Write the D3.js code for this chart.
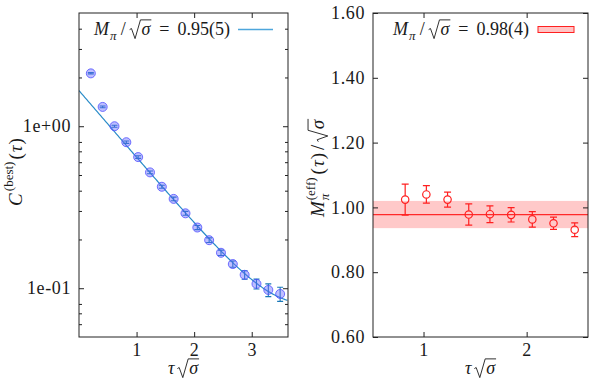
<!DOCTYPE html>
<html>
<head>
<meta charset="utf-8">
<script src="https://cdn.jsdelivr.net/npm/d3@7"></script>
<style>
  body { margin: 0; background: #fff; }
</style>
</head>
<body>
<svg id="chart" width="594" height="382"></svg>
<script>
// ---- data ----
var tauC = [0.2055, 0.411, 0.6165, 0.822, 1.0275, 1.233, 1.4385, 1.644, 1.8495,
            2.055, 2.2605, 2.466, 2.6715, 2.877, 3.0825, 3.288, 3.4935];
var corrBest = [2.12, 1.316, 1.0, 0.797, 0.645, 0.519, 0.423, 0.356, 0.290,
                0.237, 0.198, 0.1655, 0.141, 0.121, 0.1064, 0.0976, 0.0922];
var corrErr = [0.021, 0.016, 0.014, 0.013, 0.012, 0.010, 0.009, 0.009, 0.008,
               0.007, 0.0065, 0.0063, 0.0063, 0.0073, 0.0074, 0.0088, 0.0092];

var tauEff = [0.822, 1.0275, 1.233, 1.4385, 1.644, 1.8495, 2.055, 2.2605, 2.466];
var mEff = [1.024, 1.040, 1.024, 0.978, 0.979, 0.977, 0.963, 0.951, 0.931];
var mEffErr = [0.048, 0.027, 0.023, 0.033, 0.026, 0.022, 0.024, 0.019, 0.021];

// cosh fit of the correlator: A*(exp(-M t) + exp(-M (T - t)))
var fitA = 1.658, fitM = 0.95, fitT = 7.81;
// plateau fit on the effective mass
var plateau = 0.978, plateauErr = 0.042;

var leftXTicks = [1, 2, 3];
var leftYTicks = [1, 0.1];
var leftYTickLabels = ["1e+00", "1e-01"];
var leftYMinor = [4, 3, 2, 0.8, 0.7, 0.6, 0.5, 0.4, 0.3, 0.2, 0.08, 0.07, 0.06];
var rightXTicks = [1, 2];
var rightYTicks = [0.6, 0.8, 1.0, 1.2, 1.4, 1.6];

var svg = d3.select('#chart');
var FS = 18;
var SMALL = 13;
var FONT = '"Liberation Serif", "DejaVu Serif", serif';

function txt(g) {
    return g.append('text').style('font-family', FONT).attr('fill', '#1a1a1a');
}

// lay out a row of math pieces left to right, returns total width
function mathRow(g, pieces, size) {
    var x = 0;
    pieces.forEach(function (p) {
        if (p.sqrt) {
            var t = txt(g).attr('y', 0).style('font-size', size + 'px')
                .style('font-style', 'italic').text(p.sqrt);
            var w = t.node().getComputedTextLength();
            var rw = size * 0.6;
            t.attr('x', x + rw + 1);
            var path = 'M' + x + ',' + (-0.30 * size) + 'L' + (x + 0.1 * size) + ',' + (-0.36 * size) +
                'L' + (x + 0.3 * size) + ',' + (0.2 * size) + 'L' + (x + rw) + ',' + (-0.84 * size) +
                'L' + (x + rw + w + 2) + ',' + (-0.84 * size);
            g.append('path').attr('d', path).attr('fill', 'none').attr('stroke', '#1a1a1a').attr('stroke-width', 0.9);
            x += rw + w + 2 + (p.kern || 0);
            return;
        }
        if (p.stack) {
            var a = txt(g).attr('x', x).attr('y', -0.5 * size).style('font-size', SMALL + 'px').text(p.stack[0]);
            var b = txt(g).attr('x', x).attr('y', 0.25 * size).style('font-size', SMALL + 'px')
                .style('font-style', 'italic').text(p.stack[1]);
            x += Math.max(a.node().getComputedTextLength(), b.node().getComputedTextLength()) + (p.kern || 1);
            return;
        }
        var fs = p.small ? SMALL : size;
        var dy = p.sup ? -0.5 * size : (p.sub ? 0.25 * size : 0);
        var tt = txt(g).attr('x', x).attr('y', dy).style('font-size', fs + 'px')
            .style('font-style', p.it ? 'italic' : 'normal').text(p.t);
        x += tt.node().getComputedTextLength() + (p.kern || 0);
    });
    return x;
}

function legendPieces(val) {
    return [{t: 'M', it: true, kern: 1}, {t: 'π', it: true, small: true, sub: true, kern: 4},
            {t: '/', kern: 4}, {sqrt: 'σ', kern: 8}, {t: '=', kern: 8}, {t: val}];
}

// ================= left panel =================
var L = {x0: 79, x1: 288, y0: 13, y1: 337};
var xL = d3.scaleLinear().domain([0, 3.63]).range([L.x0, L.x1]);
var yL = d3.scaleLog().domain([0.05, 5]).range([L.y1, L.y0]);

svg.append('clipPath').attr('id', 'clipL').append('rect')
    .attr('x', L.x0).attr('y', L.y0).attr('width', L.x1 - L.x0).attr('height', L.y1 - L.y0);

var gL = svg.append('g');

function styleAxis(g) {
    g.attr('font-family', null);
    g.select('.domain').remove();
    g.selectAll('.tick line').attr('stroke', '#222');
    g.selectAll('.tick text').style('font-size', FS + 'px').style('font-family', FONT)
        .style('letter-spacing', '0.6px').attr('fill', '#1a1a1a');
}

gL.append('g').attr('transform', 'translate(0,' + L.y1 + ')')
    .call(d3.axisBottom(xL).tickValues(leftXTicks).tickFormat(d3.format('d')).tickSize(-5).tickPadding(6))
    .call(styleAxis);
gL.append('g').attr('transform', 'translate(0,' + L.y0 + ')')
    .call(d3.axisTop(xL).tickValues(leftXTicks).tickFormat('').tickSize(-5))
    .call(styleAxis);
gL.append('g').attr('transform', 'translate(' + L.x0 + ',0)')
    .call(d3.axisLeft(yL).tickValues(leftYTicks).tickFormat(function (d, i) { return leftYTickLabels[i]; })
        .tickSize(-5).tickPadding(8))
    .call(styleAxis);
gL.append('g').attr('transform', 'translate(' + L.x1 + ',0)')
    .call(d3.axisRight(yL).tickValues(leftYTicks).tickFormat('').tickSize(-5))
    .call(styleAxis);
gL.append('g').attr('transform', 'translate(' + L.x0 + ',0)')
    .call(d3.axisLeft(yL).tickValues(leftYMinor).tickFormat('').tickSize(-3))
    .call(styleAxis);
gL.append('g').attr('transform', 'translate(' + L.x1 + ',0)')
    .call(d3.axisRight(yL).tickValues(leftYMinor).tickFormat('').tickSize(-3))
    .call(styleAxis);

// fit curve
var fitTau = d3.range(0, 3.64, 0.02);
var fitLine = d3.line()
    .x(function (t) { return xL(t); })
    .y(function (t) { return yL(fitA * (Math.exp(-fitM * t) + Math.exp(-fitM * (fitT - t)))); });
gL.append('path').datum(fitTau).attr('d', fitLine).attr('clip-path', 'url(#clipL)')
    .attr('fill', 'none').attr('stroke', '#2a8cc8').attr('stroke-width', 1.2);

// error bars then points
var ptsL = gL.append('g').selectAll('g').data(tauC).enter().append('g');
ptsL.append('path')
    .attr('d', function (t, i) {
        var x = xL(t), ya = yL(corrBest[i] + corrErr[i]), yb = yL(corrBest[i] - corrErr[i]);
        return 'M' + (x - 3) + ',' + ya + 'H' + (x + 3) + 'M' + x + ',' + ya + 'V' + yb +
            'M' + (x - 3) + ',' + yb + 'H' + (x + 3);
    })
    .attr('fill', 'none').attr('stroke', '#1a78b8').attr('stroke-width', 1.1);
ptsL.append('circle')
    .attr('cx', function (t) { return xL(t); })
    .attr('cy', function (t, i) { return yL(corrBest[i]); })
    .attr('r', 4.5)
    .attr('fill', 'rgba(100,100,255,0.42)')
    .attr('stroke', 'rgba(80,80,255,0.8)').attr('stroke-width', 1);

gL.append('rect').attr('x', L.x0).attr('y', L.y0).attr('width', L.x1 - L.x0).attr('height', L.y1 - L.y0)
    .attr('fill', 'none').attr('stroke', '#222').attr('stroke-width', 1);

// legend
var legL = gL.append('g');
var wl = mathRow(legL, legendPieces('0.95(5)'), FS);
legL.attr('transform', 'translate(' + (230 - wl) + ',35)');
gL.append('line').attr('x1', 238).attr('x2', 273).attr('y1', 29.5).attr('y2', 29.5)
    .attr('stroke', '#4ea6dc').attr('stroke-width', 1.5);

// axis labels
var xlabL = gL.append('g');
var wx = mathRow(xlabL, [{t: 'τ', it: true, kern: 3}, {sqrt: 'σ'}], FS);
xlabL.attr('transform', 'translate(' + ((L.x0 + L.x1) / 2 - wx / 2) + ',374)');

var ylabL = gL.append('g').attr('transform', 'translate(22,172) rotate(-90)');
var ylInner = ylabL.append('g');
var wy = mathRow(ylInner, [{t: 'C', it: true, kern: 2}, {t: '(best)', small: true, sup: true, kern: 2},
    {t: '(', kern: 1}, {t: 'τ', it: true, kern: 1}, {t: ')'}], FS + 1);
ylInner.attr('transform', 'translate(' + (-wy / 2) + ',0)');

// ================= right panel =================
var R = {x0: 373, x1: 588, y0: 13, y1: 337};
var xR = d3.scaleLinear().domain([0.51, 2.595]).range([R.x0, R.x1]);
var yR = d3.scaleLinear().domain([0.6, 1.6]).range([R.y1, R.y0]);

var gR = svg.append('g');

// plateau band and line
gR.append('rect').attr('x', R.x0).attr('width', R.x1 - R.x0)
    .attr('y', yR(plateau + plateauErr)).attr('height', yR(plateau - plateauErr) - yR(plateau + plateauErr))
    .attr('fill', 'rgba(255,60,60,0.28)');
gR.append('line').attr('x1', R.x0).attr('x2', R.x1).attr('y1', yR(plateau)).attr('y2', yR(plateau))
    .attr('stroke', '#ff2a2a').attr('stroke-width', 1.3);

gR.append('g').attr('transform', 'translate(0,' + R.y1 + ')')
    .call(d3.axisBottom(xR).tickValues(rightXTicks).tickFormat(d3.format('d')).tickSize(-5).tickPadding(6))
    .call(styleAxis);
gR.append('g').attr('transform', 'translate(0,' + R.y0 + ')')
    .call(d3.axisTop(xR).tickValues(rightXTicks).tickFormat('').tickSize(-5))
    .call(styleAxis);
gR.append('g').attr('transform', 'translate(' + R.x0 + ',0)')
    .call(d3.axisLeft(yR).tickValues(rightYTicks).tickFormat(d3.format('.2f')).tickSize(-5).tickPadding(8))
    .call(styleAxis);
gR.append('g').attr('transform', 'translate(' + R.x1 + ',0)')
    .call(d3.axisRight(yR).tickValues(rightYTicks).tickFormat('').tickSize(-5))
    .call(styleAxis);

var ptsR = gR.append('g').selectAll('g').data(tauEff).enter().append('g');
ptsR.append('path')
    .attr('d', function (t, i) {
        var x = xR(t), ya = yR(mEff[i] + mEffErr[i]), yb = yR(mEff[i] - mEffErr[i]);
        var yc = yR(mEff[i]);
        return 'M' + (x - 3.5) + ',' + ya + 'H' + (x + 3.5) + 'M' + x + ',' + ya + 'V' + (yc - 3.7) +
            'M' + x + ',' + (yc + 3.7) + 'V' + yb + 'M' + (x - 3.5) + ',' + yb + 'H' + (x + 3.5);
    })
    .attr('fill', 'none').attr('stroke', '#ff2020').attr('stroke-width', 1.2);
ptsR.append('circle')
    .attr('cx', function (t) { return xR(t); })
    .attr('cy', function (t, i) { return yR(mEff[i]); })
    .attr('r', 3.7)
    .attr('fill', 'none').attr('stroke', '#ff2020').attr('stroke-width', 1.2);

gR.append('rect').attr('x', R.x0).attr('y', R.y0).attr('width', R.x1 - R.x0).attr('height', R.y1 - R.y0)
    .attr('fill', 'none').attr('stroke', '#222').attr('stroke-width', 1);

// legend
var legR = gR.append('g');
var wr = mathRow(legR, legendPieces('0.98(4)'), FS);
legR.attr('transform', 'translate(' + (529 - wr) + ',35)');
gR.append('rect').attr('x', 538).attr('y', 26.5).attr('width', 36).attr('height', 6)
    .attr('fill', 'rgba(255,60,60,0.3)').attr('stroke', '#ff2020').attr('stroke-width', 1);

var xlabR = gR.append('g');
var wx2 = mathRow(xlabR, [{t: 'τ', it: true, kern: 3}, {sqrt: 'σ'}], FS);
xlabR.attr('transform', 'translate(' + ((R.x0 + R.x1) / 2 - wx2 / 2) + ',374)');

var ylabR = gR.append('g').attr('transform', 'translate(324,168) rotate(-90)');
var yrInner = ylabR.append('g');
var wy2 = mathRow(yrInner, [{t: 'M', it: true, kern: 1}, {stack: ['(eff)', 'π'], kern: 3},
    {t: '(', kern: 1}, {t: 'τ', it: true, kern: 1}, {t: ')', kern: 3}, {t: '/', kern: 3}, {sqrt: 'σ'}], FS + 1);
yrInner.attr('transform', 'translate(' + (-wy2 / 2) + ',0)');
</script>
</body>
</html>
